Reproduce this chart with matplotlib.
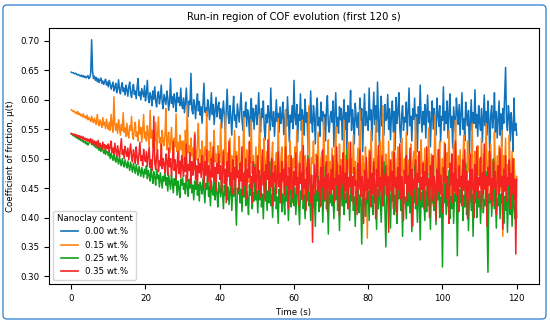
import numpy as np
import matplotlib.pyplot as plt
from matplotlib.patches import FancyBboxPatch

# tiempo (s), muestreo cada 0.25 s
t = np.linspace(0, 120, 481)

cof_000 = [
    0.647, 0.646, 0.646, 0.645, 0.644, 0.645, 0.643, 0.642, 0.643, 0.641, 0.640, 0.642, 0.639, 0.641, 0.638, 0.640, 0.637, 0.639, 0.641, 0.636,
    0.638, 0.645, 0.702, 0.648, 0.636, 0.640, 0.633, 0.638, 0.631, 0.636, 0.629, 0.634, 0.637, 0.628, 0.632, 0.626, 0.631, 0.635, 0.625, 0.630,
    0.622, 0.633, 0.627, 0.618, 0.624, 0.630, 0.615, 0.621, 0.628, 0.612, 0.619, 0.634, 0.617, 0.610, 0.623, 0.629, 0.614, 0.620, 0.608, 0.625,
    0.617, 0.606, 0.622, 0.630, 0.611, 0.604, 0.618, 0.626, 0.609, 0.615, 0.602, 0.621, 0.636, 0.607, 0.613, 0.600, 0.619, 0.612, 0.605, 0.624,
    0.598, 0.610, 0.633, 0.603, 0.595, 0.612, 0.606, 0.590, 0.615, 0.601, 0.622, 0.597, 0.588, 0.608, 0.614, 0.593, 0.604, 0.625, 0.596, 0.585,
    0.609, 0.600, 0.592, 0.615, 0.603, 0.582, 0.598, 0.636, 0.594, 0.605, 0.587, 0.610, 0.599, 0.580, 0.612, 0.596, 0.604, 0.590, 0.620, 0.593,
    0.585, 0.603, 0.578, 0.595, 0.620, 0.588, 0.572, 0.598, 0.592, 0.645, 0.583, 0.576, 0.600, 0.590, 0.568, 0.594, 0.610, 0.581, 0.597, 0.574,
    0.588, 0.560, 0.593, 0.628, 0.579, 0.586, 0.571, 0.600, 0.590, 0.566, 0.583, 0.612, 0.575, 0.592, 0.558, 0.580, 0.604, 0.571, 0.587, 0.596,
    0.568, 0.585, 0.552, 0.578, 0.598, 0.570, 0.545, 0.582, 0.618, 0.575, 0.560, 0.590, 0.571, 0.540, 0.580, 0.606, 0.565, 0.574, 0.553, 0.593,
    0.577, 0.562, 0.588, 0.612, 0.566, 0.548, 0.580, 0.571, 0.596, 0.555, 0.583, 0.574, 0.538, 0.577, 0.602, 0.563, 0.585, 0.550, 0.578, 0.591,
    0.558, 0.575, 0.612, 0.566, 0.545, 0.585, 0.570, 0.598, 0.552, 0.532, 0.575, 0.561, 0.590, 0.572, 0.548, 0.620, 0.568, 0.555, 0.580, 0.538,
    0.568, 0.600, 0.563, 0.577, 0.545, 0.588, 0.560, 0.572, 0.596, 0.541, 0.566, 0.583, 0.555, 0.605, 0.570, 0.528, 0.574, 0.562, 0.590, 0.551,
    0.633, 0.570, 0.558, 0.592, 0.528, 0.575, 0.565, 0.610, 0.548, 0.583, 0.570, 0.540, 0.601, 0.562, 0.578, 0.520, 0.586, 0.560, 0.615, 0.566,
    0.545, 0.590, 0.572, 0.525, 0.580, 0.603, 0.556, 0.570, 0.538, 0.596, 0.564, 0.580, 0.550, 0.575, 0.530, 0.585, 0.607, 0.558, 0.545, 0.572,
    0.580, 0.562, 0.598, 0.520, 0.575, 0.612, 0.555, 0.570, 0.543, 0.588, 0.566, 0.585, 0.532, 0.572, 0.600, 0.550, 0.578, 0.515, 0.590, 0.562,
    0.575, 0.616, 0.548, 0.583, 0.565, 0.525, 0.594, 0.570, 0.553, 0.578, 0.540, 0.603, 0.566, 0.585, 0.512, 0.570, 0.610, 0.556, 0.580, 0.562,
    0.548, 0.620, 0.566, 0.583, 0.530, 0.575, 0.613, 0.558, 0.590, 0.545, 0.630, 0.570, 0.522, 0.580, 0.606, 0.555, 0.575, 0.540, 0.592, 0.565,
    0.568, 0.609, 0.550, 0.585, 0.532, 0.575, 0.598, 0.545, 0.580, 0.515, 0.604, 0.560, 0.577, 0.612, 0.553, 0.528, 0.575, 0.590, 0.548, 0.570,
    0.562, 0.596, 0.540, 0.578, 0.620, 0.556, 0.572, 0.530, 0.585, 0.567, 0.603, 0.548, 0.575, 0.512, 0.588, 0.560, 0.625, 0.570, 0.545, 0.580,
    0.558, 0.592, 0.535, 0.574, 0.608, 0.562, 0.580, 0.520, 0.570, 0.598, 0.550, 0.585, 0.566, 0.540, 0.603, 0.575, 0.555, 0.590, 0.528, 0.572,
    0.565, 0.622, 0.548, 0.580, 0.560, 0.598, 0.535, 0.576, 0.610, 0.553, 0.572, 0.518, 0.588, 0.566, 0.545, 0.603, 0.578, 0.558, 0.592, 0.540,
    0.575, 0.612, 0.550, 0.568, 0.530, 0.596, 0.570, 0.556, 0.582, 0.505, 0.566, 0.600, 0.548, 0.578, 0.560, 0.617, 0.552, 0.575, 0.538, 0.590,
    0.563, 0.548, 0.585, 0.528, 0.572, 0.608, 0.556, 0.580, 0.540, 0.598, 0.565, 0.503, 0.575, 0.590, 0.552, 0.570, 0.612, 0.545, 0.580, 0.535,
    0.568, 0.598, 0.540, 0.576, 0.520, 0.585, 0.560, 0.610, 0.655, 0.562, 0.548, 0.590, 0.572, 0.530, 0.578, 0.555, 0.512, 0.603, 0.548, 0.560,
    0.540,
]

cof_015 = [
    0.583, 0.582, 0.580, 0.581, 0.578, 0.579, 0.576, 0.580, 0.575, 0.577, 0.573, 0.575, 0.571, 0.576, 0.570, 0.572, 0.568, 0.574, 0.566, 0.570,
    0.567, 0.563, 0.572, 0.565, 0.561, 0.569, 0.563, 0.558, 0.575, 0.562, 0.556, 0.566, 0.559, 0.553, 0.570, 0.557, 0.562, 0.551, 0.567, 0.555,
    0.550, 0.562, 0.548, 0.575, 0.556, 0.545, 0.605, 0.558, 0.548, 0.560, 0.543, 0.566, 0.552, 0.540, 0.558, 0.548, 0.578, 0.545, 0.552, 0.538,
    0.560, 0.542, 0.535, 0.556, 0.548, 0.572, 0.540, 0.533, 0.550, 0.562, 0.538, 0.545, 0.530, 0.566, 0.542, 0.553, 0.528, 0.548, 0.575, 0.535,
    0.545, 0.530, 0.556, 0.540, 0.522, 0.582, 0.535, 0.548, 0.520, 0.545, 0.530, 0.562, 0.515, 0.540, 0.571, 0.527, 0.536, 0.508, 0.548, 0.530,
    0.522, 0.540, 0.585, 0.515, 0.532, 0.545, 0.510, 0.525, 0.553, 0.518, 0.503, 0.535, 0.520, 0.576, 0.512, 0.528, 0.498, 0.540, 0.515, 0.530,
    0.505, 0.530, 0.492, 0.548, 0.515, 0.590, 0.510, 0.522, 0.487, 0.535, 0.505, 0.518, 0.480, 0.545, 0.510, 0.498, 0.525, 0.560, 0.502, 0.515,
    0.490, 0.530, 0.508, 0.475, 0.520, 0.505, 0.580, 0.495, 0.512, 0.482, 0.528, 0.500, 0.468, 0.515, 0.548, 0.495, 0.508, 0.475, 0.522, 0.505,
    0.492, 0.560, 0.500, 0.470, 0.515, 0.488, 0.575, 0.502, 0.462, 0.510, 0.495, 0.535, 0.478, 0.505, 0.455, 0.498, 0.548, 0.485, 0.512, 0.470,
    0.500, 0.538, 0.478, 0.495, 0.445, 0.506, 0.571, 0.488, 0.470, 0.515, 0.495, 0.460, 0.530, 0.492, 0.566, 0.475, 0.505, 0.452, 0.490, 0.520,
    0.482, 0.445, 0.510, 0.575, 0.488, 0.462, 0.505, 0.482, 0.535, 0.438, 0.495, 0.512, 0.470, 0.555, 0.485, 0.455, 0.500, 0.528, 0.430, 0.495,
    0.478, 0.510, 0.458, 0.568, 0.490, 0.445, 0.502, 0.520, 0.472, 0.428, 0.498, 0.583, 0.475, 0.452, 0.505, 0.488, 0.530, 0.462, 0.425, 0.500,
    0.485, 0.520, 0.465, 0.548, 0.478, 0.440, 0.495, 0.512, 0.470, 0.565, 0.482, 0.422, 0.505, 0.490, 0.455, 0.520, 0.590, 0.478, 0.445, 0.502,
    0.492, 0.530, 0.462, 0.438, 0.508, 0.480, 0.545, 0.470, 0.418, 0.498, 0.512, 0.466, 0.570, 0.485, 0.445, 0.505, 0.478, 0.532, 0.428, 0.495,
    0.472, 0.518, 0.480, 0.435, 0.503, 0.555, 0.465, 0.490, 0.442, 0.525, 0.475, 0.498, 0.420, 0.488, 0.565, 0.470, 0.505, 0.450, 0.482, 0.528,
    0.468, 0.438, 0.500, 0.475, 0.540, 0.455, 0.495, 0.412, 0.485, 0.518, 0.470, 0.583, 0.478, 0.448, 0.505, 0.490, 0.430, 0.520, 0.472, 0.365,
    0.480, 0.515, 0.462, 0.548, 0.488, 0.440, 0.500, 0.472, 0.565, 0.482, 0.422, 0.505, 0.468, 0.530, 0.450, 0.495, 0.590, 0.475, 0.438, 0.508,
    0.485, 0.455, 0.530, 0.470, 0.498, 0.430, 0.512, 0.478, 0.545, 0.462, 0.410, 0.492, 0.520, 0.470, 0.505, 0.445, 0.535, 0.480, 0.458, 0.500,
    0.475, 0.545, 0.488, 0.438, 0.498, 0.470, 0.525, 0.418, 0.492, 0.512, 0.480, 0.570, 0.465, 0.445, 0.505, 0.488, 0.428, 0.532, 0.475, 0.495,
    0.460, 0.518, 0.435, 0.495, 0.472, 0.552, 0.482, 0.450, 0.508, 0.465, 0.420, 0.498, 0.575, 0.478, 0.442, 0.515, 0.488, 0.530, 0.455, 0.470,
    0.500, 0.442, 0.528, 0.475, 0.420, 0.510, 0.485, 0.548, 0.462, 0.438, 0.498, 0.470, 0.525, 0.430, 0.565, 0.482, 0.455, 0.505, 0.468, 0.515,
    0.475, 0.425, 0.500, 0.540, 0.462, 0.488, 0.445, 0.530, 0.478, 0.508, 0.432, 0.495, 0.560, 0.470, 0.450, 0.512, 0.485, 0.440, 0.522, 0.472,
    0.498, 0.450, 0.535, 0.478, 0.432, 0.508, 0.465, 0.560, 0.488, 0.440, 0.512, 0.472, 0.525, 0.455, 0.498, 0.428, 0.545, 0.480, 0.462, 0.505,
    0.470, 0.522, 0.445, 0.495, 0.548, 0.368, 0.505, 0.478, 0.535, 0.452, 0.490, 0.428, 0.540, 0.475, 0.460, 0.512, 0.438, 0.500, 0.465, 0.455,
    0.470,
]

cof_025 = [
    0.542, 0.541, 0.539, 0.540, 0.537, 0.538, 0.535, 0.536, 0.533, 0.535, 0.531, 0.532, 0.529, 0.531, 0.527, 0.529, 0.525, 0.527, 0.523, 0.526,
    0.528, 0.531, 0.524, 0.529, 0.522, 0.527, 0.519, 0.525, 0.517, 0.523, 0.514, 0.521, 0.512, 0.518, 0.516, 0.509, 0.515, 0.507, 0.513, 0.511,
    0.505, 0.512, 0.500, 0.509, 0.503, 0.497, 0.510, 0.499, 0.494, 0.506, 0.498, 0.491, 0.503, 0.495, 0.488, 0.500, 0.492, 0.486, 0.498, 0.490,
    0.484, 0.496, 0.488, 0.480, 0.494, 0.485, 0.477, 0.492, 0.483, 0.475, 0.490, 0.480, 0.472, 0.487, 0.478, 0.470, 0.485, 0.476, 0.468, 0.482,
    0.474, 0.488, 0.466, 0.480, 0.472, 0.462, 0.485, 0.470, 0.458, 0.478, 0.468, 0.455, 0.482, 0.466, 0.472, 0.452, 0.476, 0.463, 0.450, 0.470,
    0.462, 0.478, 0.455, 0.468, 0.445, 0.472, 0.460, 0.448, 0.475, 0.458, 0.442, 0.466, 0.455, 0.470, 0.438, 0.462, 0.450, 0.434, 0.465, 0.455,
    0.468, 0.448, 0.458, 0.440, 0.472, 0.452, 0.436, 0.465, 0.450, 0.478, 0.442, 0.455, 0.430, 0.462, 0.448, 0.470, 0.438, 0.456, 0.428, 0.460,
    0.452, 0.440, 0.466, 0.445, 0.425, 0.458, 0.448, 0.475, 0.436, 0.452, 0.420, 0.462, 0.445, 0.438, 0.470, 0.430, 0.455, 0.442, 0.418, 0.460,
    0.448, 0.435, 0.468, 0.442, 0.415, 0.455, 0.438, 0.480, 0.430, 0.452, 0.422, 0.445, 0.460, 0.412, 0.448, 0.436, 0.472, 0.428, 0.387, 0.450,
    0.440, 0.462, 0.425, 0.448, 0.410, 0.452, 0.435, 0.478, 0.420, 0.445, 0.432, 0.405, 0.456, 0.438, 0.466, 0.415, 0.442, 0.428, 0.490, 0.430,
    0.445, 0.408, 0.452, 0.430, 0.470, 0.418, 0.440, 0.398, 0.455, 0.432, 0.462, 0.412, 0.445, 0.425, 0.495, 0.420, 0.438, 0.400, 0.450, 0.428,
    0.458, 0.415, 0.435, 0.390, 0.448, 0.425, 0.472, 0.410, 0.440, 0.432, 0.405, 0.462, 0.428, 0.445, 0.395, 0.438, 0.482, 0.418, 0.445, 0.430,
    0.420, 0.452, 0.405, 0.440, 0.468, 0.425, 0.388, 0.445, 0.432, 0.478, 0.415, 0.438, 0.398, 0.450, 0.428, 0.505, 0.420, 0.442, 0.395, 0.435,
    0.455, 0.418, 0.440, 0.385, 0.446, 0.428, 0.470, 0.410, 0.436, 0.420, 0.462, 0.392, 0.440, 0.428, 0.488, 0.415, 0.435, 0.372, 0.445, 0.425,
    0.468, 0.420, 0.438, 0.398, 0.450, 0.430, 0.495, 0.412, 0.442, 0.378, 0.436, 0.455, 0.420, 0.470, 0.405, 0.440, 0.425, 0.515, 0.418, 0.438,
    0.395, 0.450, 0.428, 0.462, 0.412, 0.435, 0.385, 0.446, 0.422, 0.478, 0.408, 0.438, 0.430, 0.355, 0.440, 0.418, 0.465, 0.402, 0.432, 0.425,
    0.445, 0.395, 0.460, 0.420, 0.436, 0.405, 0.485, 0.425, 0.440, 0.380, 0.448, 0.415, 0.466, 0.430, 0.392, 0.445, 0.420, 0.495, 0.410, 0.350,
    0.438, 0.455, 0.415, 0.440, 0.382, 0.450, 0.428, 0.470, 0.405, 0.438, 0.422, 0.390, 0.445, 0.432, 0.480, 0.412, 0.440, 0.368, 0.450, 0.425,
    0.435, 0.398, 0.455, 0.420, 0.472, 0.408, 0.440, 0.376, 0.445, 0.425, 0.488, 0.415, 0.438, 0.392, 0.450, 0.430, 0.362, 0.442, 0.418, 0.460,
    0.428, 0.395, 0.445, 0.410, 0.475, 0.420, 0.436, 0.380, 0.448, 0.425, 0.505, 0.412, 0.440, 0.388, 0.452, 0.430, 0.466, 0.400, 0.435, 0.420,
    0.316, 0.440, 0.425, 0.458, 0.405, 0.445, 0.420, 0.480, 0.398, 0.436, 0.415, 0.462, 0.390, 0.440, 0.428, 0.452, 0.335, 0.438, 0.410, 0.448,
    0.425, 0.470, 0.395, 0.438, 0.418, 0.492, 0.405, 0.445, 0.378, 0.432, 0.455, 0.412, 0.440, 0.368, 0.448, 0.425, 0.472, 0.400, 0.436, 0.418,
    0.445, 0.390, 0.438, 0.462, 0.408, 0.430, 0.420, 0.478, 0.395, 0.307, 0.440, 0.425, 0.455, 0.402, 0.438, 0.500, 0.415, 0.445, 0.382, 0.432,
    0.420, 0.458, 0.398, 0.440, 0.425, 0.470, 0.390, 0.436, 0.412, 0.448, 0.375, 0.430, 0.462, 0.405, 0.440, 0.385, 0.445, 0.420, 0.398, 0.435,
    0.400,
]

cof_035 = [
    0.543, 0.542, 0.541, 0.542, 0.539, 0.541, 0.538, 0.540, 0.536, 0.539, 0.535, 0.538, 0.533, 0.537, 0.532, 0.535, 0.530, 0.534, 0.529, 0.533,
    0.528, 0.534, 0.526, 0.532, 0.524, 0.530, 0.523, 0.529, 0.521, 0.531, 0.519, 0.526, 0.522, 0.516, 0.528, 0.518, 0.524, 0.514, 0.522, 0.517,
    0.525, 0.512, 0.520, 0.530, 0.510, 0.518, 0.508, 0.526, 0.514, 0.505, 0.522, 0.511, 0.503, 0.519, 0.534, 0.507, 0.515, 0.500, 0.521, 0.510,
    0.504, 0.518, 0.498, 0.512, 0.525, 0.502, 0.495, 0.515, 0.507, 0.492, 0.520, 0.503, 0.490, 0.510, 0.528, 0.497, 0.505, 0.488, 0.516, 0.500,
    0.495, 0.512, 0.487, 0.503, 0.520, 0.485, 0.498, 0.480, 0.510, 0.572, 0.492, 0.482, 0.505, 0.515, 0.478, 0.496, 0.488, 0.525, 0.483, 0.500,
    0.490, 0.476, 0.508, 0.495, 0.472, 0.518, 0.486, 0.500, 0.470, 0.492, 0.530, 0.480, 0.498, 0.466, 0.488, 0.512, 0.475, 0.496, 0.468, 0.505,
    0.485, 0.470, 0.502, 0.478, 0.525, 0.462, 0.490, 0.480, 0.510, 0.458, 0.495, 0.472, 0.485, 0.540, 0.465, 0.488, 0.455, 0.500, 0.476, 0.492,
    0.468, 0.505, 0.482, 0.450, 0.495, 0.472, 0.515, 0.460, 0.488, 0.478, 0.448, 0.500, 0.470, 0.520, 0.462, 0.485, 0.445, 0.492, 0.475, 0.508,
    0.465, 0.488, 0.442, 0.478, 0.512, 0.458, 0.482, 0.425, 0.495, 0.470, 0.530, 0.455, 0.476, 0.440, 0.498, 0.465, 0.485, 0.438, 0.505, 0.468,
    0.480, 0.445, 0.492, 0.462, 0.520, 0.438, 0.475, 0.455, 0.500, 0.432, 0.482, 0.468, 0.528, 0.450, 0.470, 0.425, 0.495, 0.460, 0.485, 0.440,
    0.472, 0.505, 0.448, 0.480, 0.435, 0.462, 0.515, 0.455, 0.478, 0.428, 0.490, 0.465, 0.532, 0.445, 0.470, 0.452, 0.500, 0.420, 0.476, 0.460,
    0.488, 0.440, 0.468, 0.512, 0.452, 0.475, 0.425, 0.495, 0.462, 0.482, 0.438, 0.520, 0.455, 0.470, 0.415, 0.485, 0.448, 0.505, 0.460, 0.432,
    0.478, 0.455, 0.510, 0.440, 0.468, 0.420, 0.492, 0.458, 0.475, 0.430, 0.522, 0.450, 0.465, 0.412, 0.485, 0.445, 0.500, 0.462, 0.425, 0.472,
    0.358, 0.455, 0.490, 0.438, 0.470, 0.505, 0.445, 0.462, 0.418, 0.485, 0.452, 0.515, 0.430, 0.468, 0.448, 0.495, 0.410, 0.475, 0.458, 0.440,
    0.482, 0.448, 0.505, 0.425, 0.466, 0.455, 0.520, 0.438, 0.472, 0.402, 0.488, 0.450, 0.462, 0.510, 0.432, 0.475, 0.445, 0.498, 0.415, 0.468,
    0.452, 0.528, 0.440, 0.470, 0.422, 0.485, 0.455, 0.462, 0.405, 0.492, 0.448, 0.515, 0.435, 0.470, 0.458, 0.390, 0.480, 0.446, 0.502, 0.430,
    0.465, 0.450, 0.512, 0.418, 0.475, 0.440, 0.495, 0.458, 0.398, 0.482, 0.452, 0.522, 0.436, 0.468, 0.445, 0.505, 0.420, 0.472, 0.455, 0.488,
    0.438, 0.470, 0.375, 0.462, 0.498, 0.445, 0.478, 0.415, 0.510, 0.452, 0.468, 0.405, 0.485, 0.448, 0.525, 0.432, 0.470, 0.455, 0.395, 0.480,
    0.458, 0.505, 0.428, 0.470, 0.445, 0.518, 0.438, 0.482, 0.385, 0.465, 0.450, 0.498, 0.422, 0.475, 0.460, 0.512, 0.430, 0.468, 0.448, 0.492,
    0.415, 0.478, 0.455, 0.520, 0.435, 0.466, 0.400, 0.488, 0.450, 0.505, 0.428, 0.470, 0.458, 0.395, 0.482, 0.445, 0.515, 0.438, 0.472, 0.452,
    0.408, 0.485, 0.460, 0.525, 0.432, 0.470, 0.448, 0.390, 0.492, 0.455, 0.508, 0.425, 0.475, 0.445, 0.530, 0.438, 0.465, 0.410, 0.488, 0.452,
    0.470, 0.420, 0.498, 0.446, 0.515, 0.435, 0.478, 0.398, 0.462, 0.450, 0.508, 0.428, 0.482, 0.455, 0.400, 0.490, 0.445, 0.520, 0.432, 0.468,
    0.455, 0.502, 0.415, 0.476, 0.440, 0.525, 0.448, 0.470, 0.385, 0.485, 0.455, 0.512, 0.430, 0.466, 0.420, 0.495, 0.450, 0.478, 0.405, 0.462,
    0.488, 0.440, 0.518, 0.452, 0.470, 0.380, 0.482, 0.445, 0.505, 0.428, 0.468, 0.455, 0.498, 0.415, 0.475, 0.440, 0.500, 0.430, 0.465, 0.338,
    0.465,
]

etiquetas = ['0.00 wt.%', '0.15 wt.%', '0.25 wt.%', '0.35 wt.%']
colores = ['#1072ba', '#ff8210', '#10a020', '#f52222']

plt.rcParams['font.size'] = 6.2

fig = plt.figure(figsize=(5.5, 3.23), dpi=100)
ax = fig.add_axes([0.089, 0.121, 0.891, 0.792])

for serie, etiqueta, color in zip([cof_000, cof_015, cof_025, cof_035], etiquetas, colores):
    ax.plot(t, serie, color=color, lw=1.1, label=etiqueta)

ax.set_title('Run-in region of COF evolution (first 120 s)', fontsize=7.2)
ax.set_xlabel('Time (s)')
ax.set_ylabel('Coefficient of friction, μ(t)')
ax.set_xticks([0, 20, 40, 60, 80, 100, 120])
ax.set_yticks([0.30, 0.35, 0.40, 0.45, 0.50, 0.55, 0.60, 0.65, 0.70])
leg = ax.legend(title='Nanoclay content', loc='lower left', title_fontsize=6.2)
for linea in leg.get_lines():
    linea.set_linewidth(1.2)

# marco azul redondeado alrededor de la figura
marco = FancyBboxPatch((3, 4), 543, 314, boxstyle='round,pad=0,rounding_size=4',
                       transform=None, facecolor='none', edgecolor='#2a7fd0', lw=0.9)
fig.patches.append(marco)

fig.savefig('out.png', dpi=100)
